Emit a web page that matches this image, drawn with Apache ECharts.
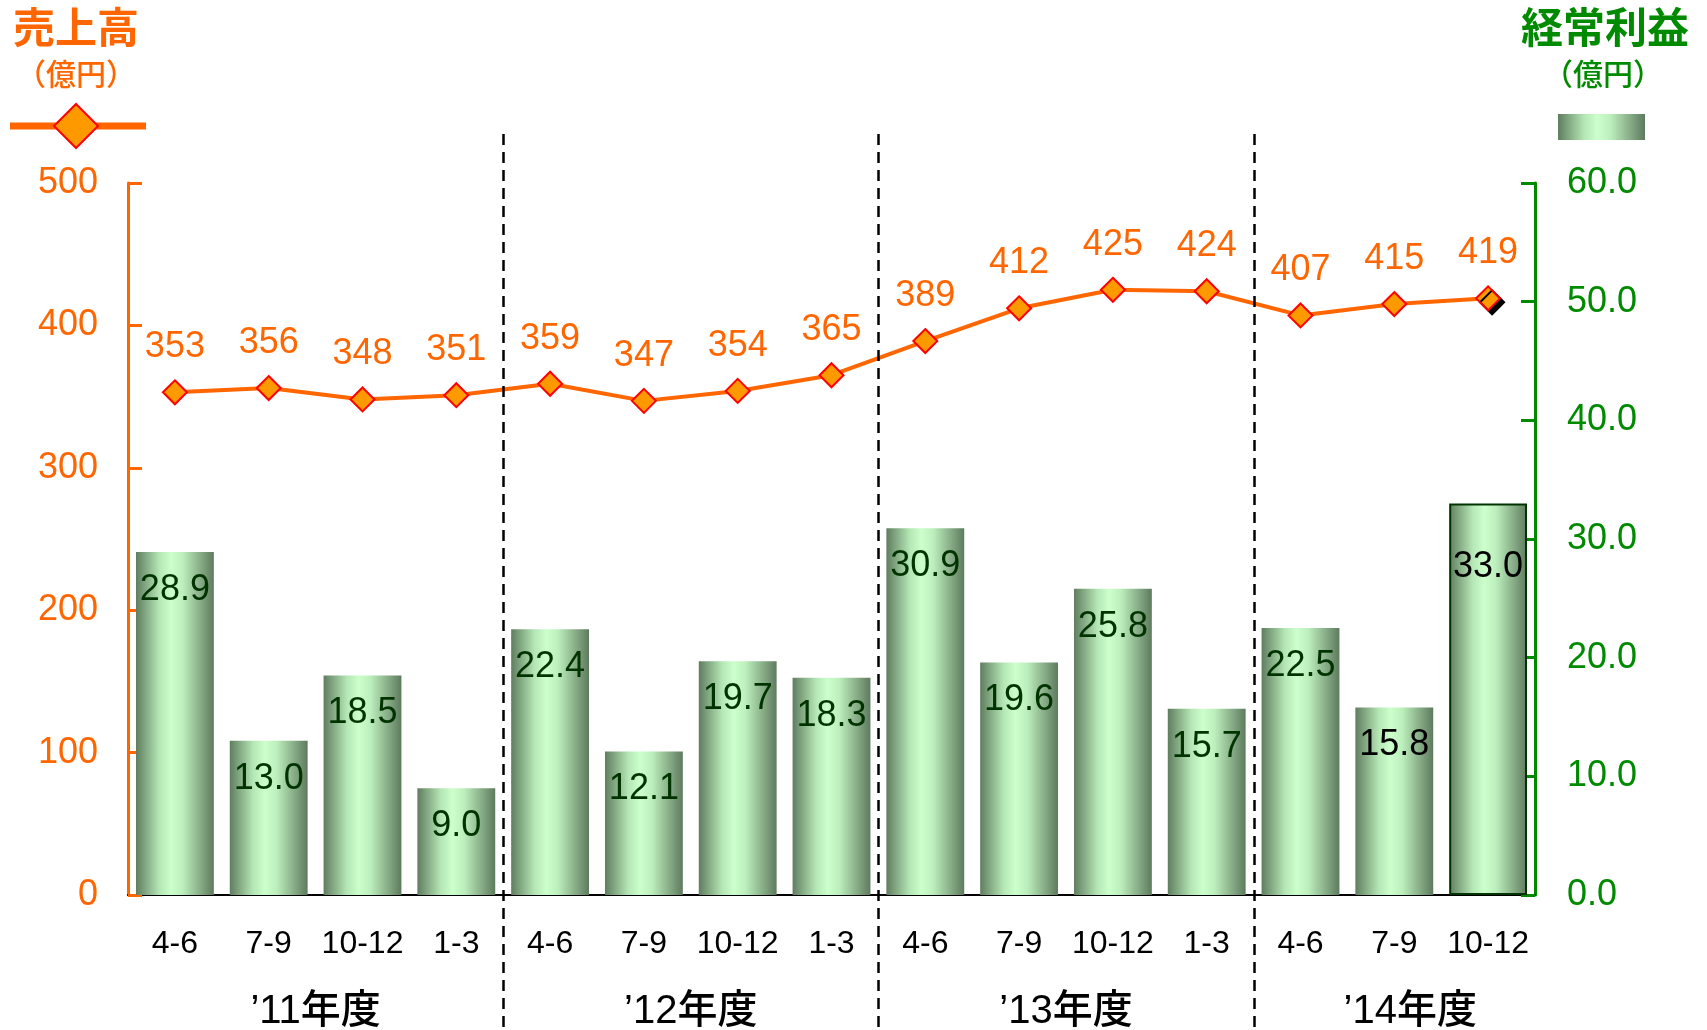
<!DOCTYPE html>
<html><head><meta charset="utf-8">
<script src="https://cdn.jsdelivr.net/npm/echarts@6/dist/echarts.min.js"></script>
<style>html,body{margin:0;padding:0;background:#fff}#c{width:1707px;height:1030px}</style>
</head><body><div id="c"></div>
<script>
// ---- data ----
const quarters = ["4-6","7-9","10-12","1-3","4-6","7-9","10-12","1-3","4-6","7-9","10-12","1-3","4-6","7-9","10-12"];
const fiscalYears = ["\u201911年度","\u201912年度","\u201913年度","\u201914年度"];
const yearSpans = [[0,3],[4,7],[8,11],[12,14]];
const sales = [353,356,348,351,359,347,354,365,389,412,425,424,407,415,419];
const profit = [28.9,13.0,18.5,9.0,22.4,12.1,19.7,18.3,30.9,19.6,25.8,15.7,22.5,15.8,33.0];
const salesAxis = {min:0, max:500, interval:100};
const profitAxis = {min:0, max:60, interval:10};
const leftTitle = "売上高", rightTitle = "経常利益", unit = "（億円）";

// ---- style ----
const ORANGE = '#FF6600', GREEN = '#008A00', FONT = "'Liberation Sans','Noto Sans CJK JP',sans-serif";
const CJK = "'Noto Sans CJK JP','Liberation Sans',sans-serif";
const YEARFONT = "'Liberation Sans','Noto Sans CJK JP',sans-serif";
const barGrad = new echarts.graphic.LinearGradient(0,0,1,0,[
  {offset:0,color:'#5f7d5f'},{offset:0.3,color:'#b5e6b5'},{offset:0.45,color:'#ccffcc'},
  {offset:0.6,color:'#bdefbd'},{offset:1,color:'#5e7a5e'}]);

const chart = echarts.init(document.getElementById('c'), null, {renderer:'canvas'});
const n = quarters.length;

const barData = profit.map((v,i)=>{
  const d = {value:v};
  const black = (i >= n-2);
  d.label = {color: black ? '#000' : '#003300'};
  if (i === n-1) {
    d.itemStyle = {borderColor:'#003300', borderWidth:2};
    d.label.offset = [0, 26];
  }
  return d;
});
const lineData = sales.map((v,i)=>{
  const d = {value:v};
  if (i === n-1) d.itemStyle = {shadowColor:'#000', shadowOffsetX:4, shadowOffsetY:4, shadowBlur:0};
  return d;
});

chart.setOption({
  animation:false,
  backgroundColor:'#fff',
  grid:{left:128, right:172, top:183, bottom:135},
  xAxis:[{
    type:'category', data:quarters,
    axisLine:{lineStyle:{color:'#000', width:2}},
    axisTick:{show:false},
    axisLabel:{color:'#000', fontSize:32, fontFamily:FONT, margin:33, interval:0}
  }],
  yAxis:[{
    type:'value', min:salesAxis.min, max:salesAxis.max, interval:salesAxis.interval, position:'left',
    axisLine:{show:true, lineStyle:{color:ORANGE, width:3}},
    axisTick:{show:true, inside:true, length:14, lineStyle:{color:ORANGE, width:3}},
    axisLabel:{color:ORANGE, fontSize:36, fontFamily:FONT, margin:30},
    splitLine:{show:false}
  },{
    type:'value', min:profitAxis.min, max:profitAxis.max, interval:profitAxis.interval, position:'right',
    axisLine:{show:true, lineStyle:{color:GREEN, width:3}},
    axisTick:{show:true, inside:true, length:14, lineStyle:{color:GREEN, width:3}},
    axisLabel:{color:GREEN, fontSize:36, fontFamily:FONT, margin:32, formatter:v=>v.toFixed(1)},
    splitLine:{show:false}
  }],
  series:[{
    type:'bar', yAxisIndex:1, data:barData, barCategoryGap:'17%',
    itemStyle:{color:barGrad},
    label:{show:true, position:'insideTop', distance:20, fontSize:36, fontFamily:FONT,
      formatter:p=>p.value.toFixed(1)},
    z:2
  },{
    type:'line', yAxisIndex:0, data:lineData,
    lineStyle:{color:ORANGE, width:4},
    symbol:'diamond', symbolSize:24,
    itemStyle:{color:'#FF9900', borderColor:'#FF0000', borderWidth:2},
    label:{show:true, position:'top', distance:14, color:ORANGE, fontSize:36, fontFamily:FONT},
    z:5
  }]
});

// ---- decorations computed from axes ----
const px = i => chart.convertToPixel({xAxisIndex:0}, i);
const g = [];
for (let k=0;k<yearSpans.length-1;k++){
  const x = Math.round((px(yearSpans[k][1]) + px(yearSpans[k+1][0]))/2) + 0.5;
  g.push({type:'line', shape:{x1:x,y1:134,x2:x,y2:1030}, style:{stroke:'#000', lineWidth:2.5, lineDash:[11,7]}, z:10});
}
yearSpans.forEach((s,k)=>{
  const x = (px(s[0]) + px(s[1]))/2 + (k === yearSpans.length-1 ? 16 : 0);
  g.push({type:'text', x:x, y:1012, style:{text:fiscalYears[k], fill:'#000', font:"500 40px "+YEARFONT,
    align:'center', verticalAlign:'middle', textShadowColor:'rgba(0,0,0,0.3)', textShadowOffsetX:2, textShadowOffsetY:2}, z:10});
});
// titles
const tshadow = {textShadowColor:'rgba(0,0,0,0.25)', textShadowOffsetX:2, textShadowOffsetY:2};
g.push({type:'text', x:76, y:27, style:Object.assign({text:leftTitle, fill:ORANGE, font:"bold 42px "+CJK, align:'center', verticalAlign:'middle'}, tshadow)});
g.push({type:'text', x:76, y:74, style:Object.assign({text:unit, fill:ORANGE, font:"500 30px "+CJK, align:'center', verticalAlign:'middle'}, tshadow)});
g.push({type:'text', x:1605, y:27, style:Object.assign({text:rightTitle, fill:GREEN, font:"bold 42px "+CJK, align:'center', verticalAlign:'middle'}, tshadow)});
g.push({type:'text', x:1603, y:74, style:Object.assign({text:unit, fill:GREEN, font:"500 30px "+CJK, align:'center', verticalAlign:'middle'}, tshadow)});
// legend: line with diamond
g.push({type:'line', shape:{x1:10,y1:126,x2:146,y2:126}, style:{stroke:ORANGE, lineWidth:7}});
g.push({type:'polygon', shape:{points:[[76,104],[98,126],[76,148],[54,126]]}, style:{fill:'#FF9900', stroke:'#FF0000', lineWidth:2}});
// legend: bar swatch
g.push({type:'rect', shape:{x:1558,y:114,width:87,height:26}, style:{fill:barGrad}});
chart.setOption({graphic:g});
</script></body></html>
